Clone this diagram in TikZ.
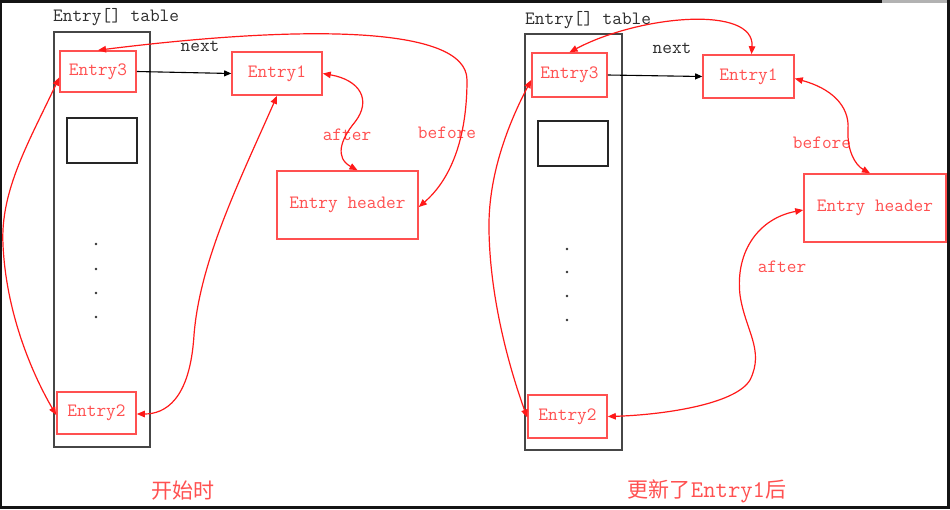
\documentclass[tikz,border=0pt]{standalone}
\usepackage{fontspec}
\usetikzlibrary{arrows.meta}
\newfontfamily\cjkfont{Noto Sans CJK SC}
\definecolor{boxred}{RGB}{255,80,80}
\definecolor{arrred}{RGB}{255,25,25}
\definecolor{txtred}{RGB}{255,80,80}
\definecolor{tblgray}{RGB}{70,70,70}
\definecolor{txtgray}{RGB}{45,45,45}
\tikzset{
  ebox/.style={draw=boxred, line width=1.6pt, inner sep=0pt, text=txtred,
    font=\ttfamily\fontsize{18.8}{20}\selectfont},
  tbl/.style={draw=tblgray, line width=1.8pt, inner sep=0pt},
  blk/.style={draw=black!85, line width=1.4pt, inner sep=0pt},
  lbl/.style={inner sep=0pt, font=\ttfamily\fontsize{18.8}{20}\selectfont},
  redlbl/.style={lbl, text=txtred},
  caption/.style={inner sep=0pt, text=txtred, font=\fontsize{21}{24}\selectfont},
  biarrow/.style={draw=arrred, line width=1.2pt, {Triangle[length=8pt,width=6.5pt]}-{Triangle[length=8pt,width=6.5pt]}},
  nextarrow/.style={draw=black, line width=1.1pt, -{Triangle[length=7pt,width=6pt]}},
  dotn/.style={circle, fill=black!80, inner sep=0pt, minimum size=2.6pt}
}
\begin{document}
\begin{tikzpicture}[x=1pt,y=-1pt]
\useasboundingbox (0,0) rectangle (950,509);
% frame
\fill[black!92] (0,0) rectangle (950,509);
\fill[white] (1.5,2.5) rectangle (946.5,505.5);
\fill[black!30] (882,0) rectangle (946.5,2.5);

% ---------------- left panel ----------------
\node[lbl, text=txtgray, anchor=west] (tlL) at (53,17) {Entry[] table};
\node[tbl, minimum width=96pt, minimum height=415pt] (tabL) at (102,239.5) {};
\node[ebox, minimum width=76pt, minimum height=41pt] (E3L) at (98,71.5) {Entry3};
\node[blk, minimum width=70pt, minimum height=45pt] (sbL) at (102,140.5) {};
\node[dotn] (d1L) at (96,244) {};
\node[dotn] (d2L) at (96,269) {};
\node[dotn] (d3L) at (96,293) {};
\node[dotn] (d4L) at (96,317) {};
\node[ebox, minimum width=79pt, minimum height=42pt] (E2L) at (96.5,413) {Entry2};
\node[ebox, minimum width=90pt, minimum height=43pt] (E1L) at (277,73.5) {Entry1};
\node[ebox, minimum width=141pt, minimum height=68pt] (EHL) at (347.5,205) {Entry header};
\node[lbl, text=txtgray] (nextL) at (200,46) {next};
\node[redlbl] (afterL) at (347,135) {after};
\node[redlbl] (beforeL) at (447,133) {before};
\node[caption] (capL) at (183,491) {\cjkfont 开始时};

\draw[nextarrow] (E3L.east) -- (E1L.west);
\draw[biarrow] ([yshift=-6pt]E3L.west) .. controls (30,140) and (0,190) .. (3,245)
   .. controls (6,310) and (30,370) .. ([yshift=-2pt]E2L.west);
\draw[biarrow] (E1L.south) .. controls (240,180) and (200,260) .. (194,335)
   .. controls (190,400) and (165,414) .. ([yshift=-1pt]E2L.east);
\draw[biarrow] (E1L.east) .. controls (360,80) and (372,100) .. (355,122)
   .. controls (340,140) and (335,158) .. ([xshift=10pt]EHL.north);
\draw[biarrow] ([yshift=-2pt]EHL.east) .. controls (450,180) and (467,140) .. (467,80)
   .. controls (467,25) and (300,25) .. (E3L.north);

% ---------------- right panel ----------------
\node[lbl, text=txtgray, anchor=west] (tlR) at (525,20) {Entry[] table};
\node[tbl, minimum width=97pt, minimum height=416pt] (tabR) at (573.5,242) {};
\node[ebox, minimum width=75pt, minimum height=44pt] (E3R) at (569.5,75) {Entry3};
\node[blk, minimum width=70pt, minimum height=45pt] (sbR) at (573,143.5) {};
\node[dotn] (d1R) at (567,249) {};
\node[dotn] (d2R) at (567,272) {};
\node[dotn] (d3R) at (567,296) {};
\node[dotn] (d4R) at (567,320) {};
\node[ebox, minimum width=79pt, minimum height=43pt] (E2R) at (567.5,416.5) {Entry2};
\node[ebox, minimum width=91pt, minimum height=43pt] (E1R) at (748.5,76.5) {Entry1};
\node[ebox, minimum width=142pt, minimum height=68pt] (EHR) at (875,208) {Entry header};
\node[lbl, text=txtgray] (nextR) at (672,48) {next};
\node[redlbl] (beforeR) at (822,143) {before};
\node[redlbl] (afterR) at (782,267) {after};
\node[caption] (capR) at (707,491) {\cjkfont 更新了{\ttfamily\fontsize{24}{24}\selectfont Entry1}后};

\draw[nextarrow] (E3R.east) -- (E1R.west);
\draw[biarrow] ([yshift=-5pt]E3R.west) .. controls (505,130) and (488,180) .. (489,230)
   .. controls (490,300) and (510,370) .. ([yshift=-1pt]E2R.west);
\draw[biarrow] ([xshift=3pt]E1R.north) .. controls (755,5) and (640,15) .. (E3R.north);
\draw[biarrow] ([yshift=-2pt]E1R.east) .. controls (830,88) and (850,105) .. (848,130)
   .. controls (847,150) and (855,165) .. ([xshift=-5pt]EHR.north);
\draw[biarrow] ([yshift=-2pt]EHR.west) .. controls (760,218) and (735,250) .. (740,295)
   .. controls (745,330) and (765,350) .. (750,380)
   .. controls (735,405) and (660,415) .. (E2R.east);
\end{tikzpicture}
\end{document}
